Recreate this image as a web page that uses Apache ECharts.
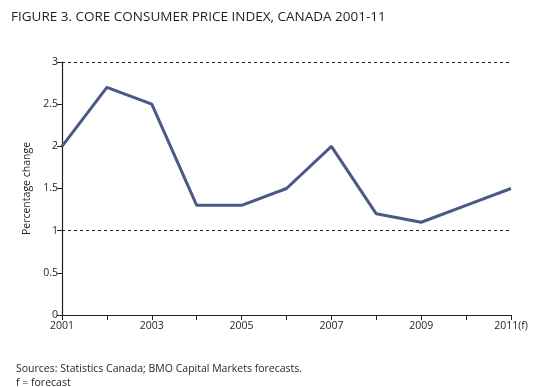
<!DOCTYPE html>
<html><head><meta charset="utf-8">
<script src="https://cdn.jsdelivr.net/npm/echarts@6/dist/echarts.min.js"></script>
<style>html,body{margin:0;padding:0;background:#fff}#c{width:537px;height:387px}</style>
</head><body><div id="c"></div>
<script>
const years = ['2001','2002','2003','2004','2005','2006','2007','2008','2009','2010','2011(f)'];
const coreCPI = [2.0, 2.7, 2.5, 1.3, 1.3, 1.5, 2.0, 1.2, 1.1, 1.3, 1.5];
const refLines = [1, 3];
const titleText = 'FIGURE 3. CORE CONSUMER PRICE INDEX, CANADA 2001-11';
const sourceText = 'Sources: Statistics Canada; BMO Capital Markets forecasts.';
const noteText = 'f = forecast';
const font = '"Open Sans", "Noto Sans", sans-serif';
const chart = echarts.init(document.getElementById('c'), null, {renderer:'canvas'});
chart.setOption({
  animation:false,
  backgroundColor:'#fff',
  textStyle:{fontFamily:font},
  title:[
    {text:titleText, left:6, top:5, textStyle:{fontFamily:font, fontSize:13.5, fontWeight:'normal', color:'#231f20'}},
    {text:sourceText, left:11, top:359, textStyle:{fontFamily:font, fontSize:10.5, fontWeight:'normal', color:'#231f20'}},
    {text:noteText, left:11, top:373, textStyle:{fontFamily:font, fontSize:10.5, fontWeight:'normal', color:'#231f20'}}
  ],
  grid:{left:62, right:26, top:62, bottom:72, containLabel:false},
  xAxis:{
    type:'category', data:years, boundaryGap:false,
    axisLine:{lineStyle:{color:'#231f20', width:1.2}},
    axisTick:{show:true, interval:0, length:5, lineStyle:{color:'#231f20'}},
    axisLabel:{interval:1, color:'#231f20', fontSize:10.5, margin:6,
      formatter:function(v, i){ return v; }},
    splitLine:{show:false}
  },
  yAxis:{
    type:'value', min:0, max:3, interval:0.5,
    name:'Percentage change', nameLocation:'middle', nameGap:25,
    nameTextStyle:{color:'#231f20', fontSize:10.5, fontFamily:font},
    axisLine:{show:true, lineStyle:{color:'#231f20', width:1.2}},
    axisTick:{show:true, inside:false, length:5, lineStyle:{color:'#231f20'}},
    axisLabel:{color:'#231f20', fontSize:10.5, margin:4},
    splitLine:{show:false}
  },
  series:[{
    type:'line', data:coreCPI, symbol:'none',
    lineStyle:{color:'#4a5a84', width:3},
    markLine:{
      silent:true, symbol:'none', label:{show:false},
      lineStyle:{color:'#231f20', type:[3,3], width:1},
      data: refLines.map(v=>({yAxis:v}))
    }
  }]
});
</script></body></html>
